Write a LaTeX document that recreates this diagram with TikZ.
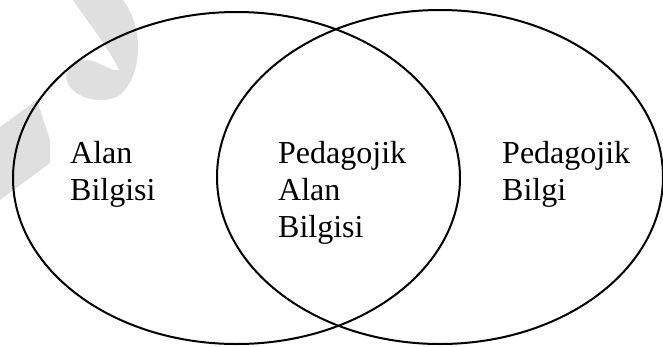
\documentclass[tikz,border=0pt]{standalone}
\usepackage{fontspec}
\setmainfont{Liberation Serif}
\usetikzlibrary{shapes.geometric}
\begin{document}
\begin{tikzpicture}[x=1pt,y=-1pt,
  venn/.style={draw=black,line width=2pt},
  lbl/.style={anchor=base west,inner sep=0pt,font=\fontsize{32}{37}\selectfont},
  wmark/.style={fill=gray!25,draw=none}]
\useasboundingbox (0,0) rectangle (663,346);
% faint watermark
\fill[wmark] (73,0) -- (123,0) .. controls (145,30) and (142,75) .. (120,95)
  .. controls (105,105) and (75,100) .. (67,82) .. controls (63,68) and (75,58) .. (88,60)
  .. controls (100,62) and (112,72) .. (119,70) .. controls (110,50) and (90,25) .. (73,0) -- cycle;
\fill[wmark] (0,127) -- (37,100) -- (50,140) -- (50,163) -- (0,200) -- cycle;
% ellipses
\node[venn,ellipse,minimum width=447pt,minimum height=332pt,inner sep=0pt] (left) at (236.5,178) {};
\node[venn,ellipse,minimum width=446pt,minimum height=334pt,inner sep=0pt] (right) at (440,177) {};
% labels
\node[lbl] (a1) at (70,163) {Alan};
\node[lbl] (a2) at (70,200) {Bilgisi};
\node[lbl] (m1) at (278,163) {Pedagojik};
\node[lbl] (m2) at (278,200) {Alan};
\node[lbl] (m3) at (278,237) {Bilgisi};
\node[lbl] (r1) at (502,163) {Pedagojik};
\node[lbl] (r2) at (502,200) {Bilgi};
\end{tikzpicture}
\end{document}
